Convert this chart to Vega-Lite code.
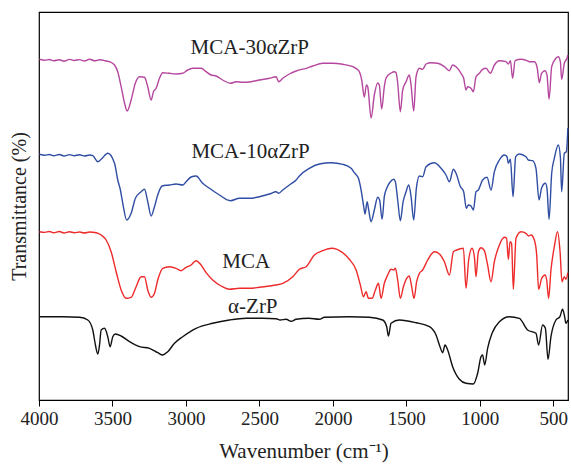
{
  "$schema": "https://vega.github.io/schema/vega-lite/v6.json",
  "autosize": "none",
  "width": 529,
  "height": 388,
  "padding": {"left": 39, "top": 12, "right": 3, "bottom": 64},
  "background": "white",
  "config": {
    "view": {"stroke": "#000", "strokeWidth": 1.2},
    "font": "Liberation Serif"
  },
  "datasets": {
    "spec": [
      {"s":"M30","x":3997,"y":340.7},{"s":"M30","x":3960,"y":339.8},{"s":"M30","x":3929,"y":340.5},{"s":"M30","x":3900,"y":339.2},{"s":"M30","x":3861,"y":340.2},{"s":"M30","x":3830,"y":338.8},{"s":"M30","x":3793,"y":340.6},{"s":"M30","x":3760,"y":339.5},{"s":"M30","x":3724,"y":340.4},{"s":"M30","x":3690,"y":339.0},{"s":"M30","x":3656,"y":340.8},{"s":"M30","x":3620,"y":339.2},{"s":"M30","x":3588,"y":340.2},{"s":"M30","x":3560,"y":339.6},{"s":"M30","x":3543,"y":339},{"s":"M30","x":3520,"y":338.3},{"s":"M30","x":3486,"y":335},{"s":"M30","x":3464,"y":328.3},{"s":"M30","x":3441,"y":313.3},{"s":"M30","x":3418,"y":297},{"s":"M30","x":3400,"y":289},{"s":"M30","x":3373,"y":300},{"s":"M30","x":3344,"y":317},{"s":"M30","x":3316,"y":323.3},{"s":"M30","x":3282,"y":322.7},{"s":"M30","x":3260,"y":313.3},{"s":"M30","x":3237,"y":300},{"s":"M30","x":3221,"y":308.3},{"s":"M30","x":3203,"y":311.7},{"s":"M30","x":3180,"y":321.7},{"s":"M30","x":3158,"y":327.3},{"s":"M30","x":3112,"y":326.7},{"s":"M30","x":3067,"y":326},{"s":"M30","x":3022,"y":326.7},{"s":"M30","x":2988,"y":330},{"s":"M30","x":2954,"y":331.7},{"s":"M30","x":2897,"y":331.7},{"s":"M30","x":2863,"y":328.3},{"s":"M30","x":2829,"y":325},{"s":"M30","x":2795,"y":324},{"s":"M30","x":2750,"y":320},{"s":"M30","x":2697,"y":316.7},{"s":"M30","x":2658,"y":318.3},{"s":"M30","x":2613,"y":317.7},{"s":"M30","x":2556,"y":318.3},{"s":"M30","x":2500,"y":320},{"s":"M30","x":2432,"y":321.7},{"s":"M30","x":2386,"y":323.3},{"s":"M30","x":2369,"y":318.3},{"s":"M30","x":2341,"y":321.7},{"s":"M30","x":2296,"y":326},{"s":"M30","x":2250,"y":329},{"s":"M30","x":2182,"y":331.7},{"s":"M30","x":2137,"y":334},{"s":"M30","x":2069,"y":336.7},{"s":"M30","x":2001,"y":336.7},{"s":"M30","x":1933,"y":335.7},{"s":"M30","x":1865,"y":333.3},{"s":"M30","x":1824,"y":329.3},{"s":"M30","x":1804,"y":320},{"s":"M30","x":1786,"y":303},{"s":"M30","x":1772,"y":315},{"s":"M30","x":1763,"y":313.3},{"s":"M30","x":1740,"y":282},{"s":"M30","x":1718,"y":305},{"s":"M30","x":1695,"y":317},{"s":"M30","x":1684,"y":315},{"s":"M30","x":1668,"y":291},{"s":"M30","x":1650,"y":313.3},{"s":"M30","x":1638,"y":322},{"s":"M30","x":1604,"y":327},{"s":"M30","x":1582,"y":328.3},{"s":"M30","x":1570,"y":327.3},{"s":"M30","x":1559,"y":317},{"s":"M30","x":1541,"y":288.3},{"s":"M30","x":1525,"y":310},{"s":"M30","x":1502,"y":318.3},{"s":"M30","x":1480,"y":325},{"s":"M30","x":1468,"y":315},{"s":"M30","x":1450,"y":289},{"s":"M30","x":1434,"y":323.3},{"s":"M30","x":1411,"y":331.7},{"s":"M30","x":1389,"y":330.7},{"s":"M30","x":1366,"y":336},{"s":"M30","x":1332,"y":337.3},{"s":"M30","x":1287,"y":336.7},{"s":"M30","x":1241,"y":333.3},{"s":"M30","x":1207,"y":329.3},{"s":"M30","x":1185,"y":335},{"s":"M30","x":1162,"y":333.3},{"s":"M30","x":1128,"y":326.7},{"s":"M30","x":1110,"y":321.7},{"s":"M30","x":1094,"y":310},{"s":"M30","x":1083,"y":313.3},{"s":"M30","x":1060,"y":311.7},{"s":"M30","x":1044,"y":308.3},{"s":"M30","x":1026,"y":323.3},{"s":"M30","x":1003,"y":326.7},{"s":"M30","x":981,"y":330.7},{"s":"M30","x":958,"y":331.7},{"s":"M30","x":928,"y":326.7},{"s":"M30","x":901,"y":335},{"s":"M30","x":867,"y":339.3},{"s":"M30","x":822,"y":338.3},{"s":"M30","x":806,"y":336},{"s":"M30","x":792,"y":339.3},{"s":"M30","x":777,"y":321.7},{"s":"M30","x":760,"y":339.3},{"s":"M30","x":720,"y":340.7},{"s":"M30","x":679,"y":339.3},{"s":"M30","x":663,"y":338.3},{"s":"M30","x":629,"y":338.3},{"s":"M30","x":611,"y":333.3},{"s":"M30","x":595,"y":317.3},{"s":"M30","x":580,"y":326.7},{"s":"M30","x":556,"y":329.3},{"s":"M30","x":543,"y":325},{"s":"M30","x":529,"y":300.7},{"s":"M30","x":511,"y":333.3},{"s":"M30","x":482,"y":341.7},{"s":"M30","x":466,"y":343.3},{"s":"M30","x":452,"y":338.3},{"s":"M30","x":443,"y":320.7},{"s":"M30","x":425,"y":336.7},{"s":"M30","x":407,"y":341.7},{"s":"M30","x":401,"y":345},

      {"s":"M10","x":3997,"y":245.7},{"s":"M10","x":3960,"y":244.8},{"s":"M10","x":3929,"y":245.5},{"s":"M10","x":3900,"y":244.2},{"s":"M10","x":3861,"y":245.5},{"s":"M10","x":3830,"y":244.0},{"s":"M10","x":3793,"y":245.4},{"s":"M10","x":3760,"y":244.3},{"s":"M10","x":3724,"y":245.2},{"s":"M10","x":3690,"y":244.0},{"s":"M10","x":3656,"y":245.0},{"s":"M10","x":3634,"y":244.3},{"s":"M10","x":3600,"y":238.3},{"s":"M10","x":3577,"y":240.7},{"s":"M10","x":3532,"y":246.7},{"s":"M10","x":3486,"y":236.7},{"s":"M10","x":3464,"y":220},{"s":"M10","x":3446,"y":210},{"s":"M10","x":3430,"y":196.7},{"s":"M10","x":3403,"y":180},{"s":"M10","x":3373,"y":186.7},{"s":"M10","x":3344,"y":201.7},{"s":"M10","x":3305,"y":208.3},{"s":"M10","x":3282,"y":210.7},{"s":"M10","x":3260,"y":198.3},{"s":"M10","x":3237,"y":184},{"s":"M10","x":3214,"y":193.3},{"s":"M10","x":3192,"y":205},{"s":"M10","x":3162,"y":214},{"s":"M10","x":3112,"y":215},{"s":"M10","x":3067,"y":216},{"s":"M10","x":3022,"y":215},{"s":"M10","x":2999,"y":218.3},{"s":"M10","x":2965,"y":223},{"s":"M10","x":2931,"y":224},{"s":"M10","x":2886,"y":216.7},{"s":"M10","x":2840,"y":211.7},{"s":"M10","x":2772,"y":205},{"s":"M10","x":2697,"y":199.3},{"s":"M10","x":2636,"y":201.7},{"s":"M10","x":2568,"y":201.7},{"s":"M10","x":2500,"y":203.3},{"s":"M10","x":2432,"y":206},{"s":"M10","x":2386,"y":208.3},{"s":"M10","x":2369,"y":206.7},{"s":"M10","x":2341,"y":210},{"s":"M10","x":2296,"y":215},{"s":"M10","x":2250,"y":220},{"s":"M10","x":2228,"y":224},{"s":"M10","x":2160,"y":231.7},{"s":"M10","x":2092,"y":236},{"s":"M10","x":2012,"y":237.3},{"s":"M10","x":1933,"y":235.7},{"s":"M10","x":1876,"y":231.7},{"s":"M10","x":1854,"y":227.3},{"s":"M10","x":1826,"y":221.7},{"s":"M10","x":1808,"y":210},{"s":"M10","x":1790,"y":193.3},{"s":"M10","x":1781,"y":186},{"s":"M10","x":1767,"y":198.3},{"s":"M10","x":1758,"y":191.7},{"s":"M10","x":1740,"y":178.3},{"s":"M10","x":1718,"y":190},{"s":"M10","x":1695,"y":202.7},{"s":"M10","x":1682,"y":200},{"s":"M10","x":1665,"y":180.7},{"s":"M10","x":1650,"y":203.3},{"s":"M10","x":1634,"y":211.7},{"s":"M10","x":1609,"y":218.3},{"s":"M10","x":1586,"y":220.7},{"s":"M10","x":1575,"y":218.3},{"s":"M10","x":1559,"y":200},{"s":"M10","x":1541,"y":179.3},{"s":"M10","x":1522,"y":198.3},{"s":"M10","x":1502,"y":208.3},{"s":"M10","x":1484,"y":215},{"s":"M10","x":1468,"y":203.3},{"s":"M10","x":1450,"y":180},{"s":"M10","x":1432,"y":211.7},{"s":"M10","x":1411,"y":224},{"s":"M10","x":1389,"y":223.3},{"s":"M10","x":1366,"y":233.3},{"s":"M10","x":1309,"y":237.3},{"s":"M10","x":1264,"y":231.7},{"s":"M10","x":1230,"y":225},{"s":"M10","x":1207,"y":218.3},{"s":"M10","x":1180,"y":230.7},{"s":"M10","x":1162,"y":226.7},{"s":"M10","x":1132,"y":213.3},{"s":"M10","x":1110,"y":208.3},{"s":"M10","x":1092,"y":191.7},{"s":"M10","x":1078,"y":195},{"s":"M10","x":1060,"y":194},{"s":"M10","x":1044,"y":190},{"s":"M10","x":1026,"y":208.3},{"s":"M10","x":1010,"y":210},{"s":"M10","x":981,"y":220},{"s":"M10","x":951,"y":222.7},{"s":"M10","x":924,"y":210},{"s":"M10","x":901,"y":228.3},{"s":"M10","x":867,"y":240},{"s":"M10","x":833,"y":245},{"s":"M10","x":815,"y":243.3},{"s":"M10","x":806,"y":236.7},{"s":"M10","x":792,"y":240.7},{"s":"M10","x":774,"y":203.3},{"s":"M10","x":756,"y":243.3},{"s":"M10","x":731,"y":246},{"s":"M10","x":686,"y":243.3},{"s":"M10","x":670,"y":240},{"s":"M10","x":641,"y":239.3},{"s":"M10","x":618,"y":231.7},{"s":"M10","x":597,"y":200},{"s":"M10","x":580,"y":211.7},{"s":"M10","x":554,"y":216.7},{"s":"M10","x":543,"y":211.7},{"s":"M10","x":529,"y":180.7},{"s":"M10","x":511,"y":226.7},{"s":"M10","x":493,"y":241.7},{"s":"M10","x":466,"y":255},{"s":"M10","x":452,"y":243.3},{"s":"M10","x":443,"y":208.3},{"s":"M10","x":425,"y":246.7},{"s":"M10","x":411,"y":248.3},{"s":"M10","x":401,"y":272},

      {"s":"MCA","x":3997,"y":168.3},{"s":"MCA","x":3960,"y":167.6},{"s":"MCA","x":3929,"y":168.5},{"s":"MCA","x":3900,"y":167.2},{"s":"MCA","x":3861,"y":168.5},{"s":"MCA","x":3830,"y":167.0},{"s":"MCA","x":3793,"y":168.2},{"s":"MCA","x":3760,"y":167.3},{"s":"MCA","x":3724,"y":168},{"s":"MCA","x":3690,"y":167.0},{"s":"MCA","x":3656,"y":168.0},{"s":"MCA","x":3611,"y":167.3},{"s":"MCA","x":3577,"y":165},{"s":"MCA","x":3543,"y":160},{"s":"MCA","x":3509,"y":148.3},{"s":"MCA","x":3475,"y":128.3},{"s":"MCA","x":3441,"y":110},{"s":"MCA","x":3407,"y":101.7},{"s":"MCA","x":3373,"y":102.7},{"s":"MCA","x":3339,"y":113.3},{"s":"MCA","x":3305,"y":123.3},{"s":"MCA","x":3282,"y":123.3},{"s":"MCA","x":3260,"y":110},{"s":"MCA","x":3237,"y":102.7},{"s":"MCA","x":3214,"y":106.7},{"s":"MCA","x":3192,"y":120},{"s":"MCA","x":3158,"y":131.7},{"s":"MCA","x":3112,"y":133.3},{"s":"MCA","x":3067,"y":131.7},{"s":"MCA","x":3033,"y":129.3},{"s":"MCA","x":2999,"y":132.7},{"s":"MCA","x":2965,"y":135},{"s":"MCA","x":2931,"y":139.3},{"s":"MCA","x":2897,"y":135},{"s":"MCA","x":2863,"y":127.3},{"s":"MCA","x":2818,"y":120},{"s":"MCA","x":2761,"y":114},{"s":"MCA","x":2704,"y":110.7},{"s":"MCA","x":2636,"y":111.7},{"s":"MCA","x":2568,"y":111.7},{"s":"MCA","x":2500,"y":112.7},{"s":"MCA","x":2432,"y":114},{"s":"MCA","x":2386,"y":115},{"s":"MCA","x":2341,"y":116.7},{"s":"MCA","x":2273,"y":123.3},{"s":"MCA","x":2228,"y":130.7},{"s":"MCA","x":2182,"y":133.3},{"s":"MCA","x":2126,"y":145},{"s":"MCA","x":2069,"y":149.3},{"s":"MCA","x":2005,"y":151.7},{"s":"MCA","x":1944,"y":148.3},{"s":"MCA","x":1888,"y":140.7},{"s":"MCA","x":1842,"y":130},{"s":"MCA","x":1813,"y":115},{"s":"MCA","x":1792,"y":103.3},{"s":"MCA","x":1774,"y":108.3},{"s":"MCA","x":1758,"y":101.7},{"s":"MCA","x":1733,"y":101.7},{"s":"MCA","x":1711,"y":110},{"s":"MCA","x":1690,"y":116.7},{"s":"MCA","x":1672,"y":101.7},{"s":"MCA","x":1650,"y":116.7},{"s":"MCA","x":1627,"y":125},{"s":"MCA","x":1604,"y":130.7},{"s":"MCA","x":1586,"y":130},{"s":"MCA","x":1575,"y":131.7},{"s":"MCA","x":1559,"y":120},{"s":"MCA","x":1541,"y":101.7},{"s":"MCA","x":1520,"y":113.3},{"s":"MCA","x":1498,"y":121.7},{"s":"MCA","x":1480,"y":124},{"s":"MCA","x":1464,"y":113.3},{"s":"MCA","x":1448,"y":101.7},{"s":"MCA","x":1430,"y":118.3},{"s":"MCA","x":1411,"y":126.7},{"s":"MCA","x":1389,"y":130},{"s":"MCA","x":1355,"y":140},{"s":"MCA","x":1309,"y":148.3},{"s":"MCA","x":1275,"y":146},{"s":"MCA","x":1241,"y":138.3},{"s":"MCA","x":1207,"y":125},{"s":"MCA","x":1180,"y":148.3},{"s":"MCA","x":1158,"y":150},{"s":"MCA","x":1112,"y":151.7},{"s":"MCA","x":1094,"y":111.7},{"s":"MCA","x":1076,"y":140},{"s":"MCA","x":1053,"y":151.7},{"s":"MCA","x":1037,"y":143.3},{"s":"MCA","x":1026,"y":123.3},{"s":"MCA","x":1010,"y":148.3},{"s":"MCA","x":992,"y":152.3},{"s":"MCA","x":969,"y":149.3},{"s":"MCA","x":947,"y":135},{"s":"MCA","x":924,"y":118.3},{"s":"MCA","x":901,"y":138.3},{"s":"MCA","x":867,"y":155},{"s":"MCA","x":833,"y":162.7},{"s":"MCA","x":818,"y":161.7},{"s":"MCA","x":806,"y":140.7},{"s":"MCA","x":794,"y":158.3},{"s":"MCA","x":784,"y":156.7},{"s":"MCA","x":772,"y":110.7},{"s":"MCA","x":754,"y":161.7},{"s":"MCA","x":720,"y":168.3},{"s":"MCA","x":686,"y":166.7},{"s":"MCA","x":668,"y":164},{"s":"MCA","x":652,"y":165},{"s":"MCA","x":629,"y":160},{"s":"MCA","x":613,"y":145},{"s":"MCA","x":600,"y":110.7},{"s":"MCA","x":579,"y":121.7},{"s":"MCA","x":556,"y":125},{"s":"MCA","x":545,"y":120},{"s":"MCA","x":532,"y":101.7},{"s":"MCA","x":516,"y":130},{"s":"MCA","x":493,"y":153.3},{"s":"MCA","x":471,"y":168.3},{"s":"MCA","x":454,"y":148.3},{"s":"MCA","x":441,"y":118.3},{"s":"MCA","x":425,"y":123.3},{"s":"MCA","x":414,"y":120.7},{"s":"MCA","x":401,"y":127.3},

      {"s":"ZrP","x":3997,"y":83.3},{"s":"ZrP","x":3838,"y":83.3},{"s":"ZrP","x":3724,"y":82.7},{"s":"ZrP","x":3668,"y":80},{"s":"ZrP","x":3634,"y":70},{"s":"ZrP","x":3616,"y":55},{"s":"ZrP","x":3600,"y":46},{"s":"ZrP","x":3588,"y":55},{"s":"ZrP","x":3577,"y":70},{"s":"ZrP","x":3554,"y":71.7},{"s":"ZrP","x":3532,"y":63.3},{"s":"ZrP","x":3516,"y":53.3},{"s":"ZrP","x":3498,"y":63.3},{"s":"ZrP","x":3480,"y":66},{"s":"ZrP","x":3441,"y":64},{"s":"ZrP","x":3384,"y":58.3},{"s":"ZrP","x":3316,"y":53.3},{"s":"ZrP","x":3248,"y":51.7},{"s":"ZrP","x":3192,"y":47.3},{"s":"ZrP","x":3158,"y":45},{"s":"ZrP","x":3124,"y":48.3},{"s":"ZrP","x":3078,"y":56.7},{"s":"ZrP","x":3022,"y":63.3},{"s":"ZrP","x":2931,"y":71.7},{"s":"ZrP","x":2818,"y":76.7},{"s":"ZrP","x":2704,"y":80},{"s":"ZrP","x":2590,"y":81.7},{"s":"ZrP","x":2477,"y":81.7},{"s":"ZrP","x":2386,"y":81.3},{"s":"ZrP","x":2359,"y":80},{"s":"ZrP","x":2318,"y":80.7},{"s":"ZrP","x":2284,"y":78.7},{"s":"ZrP","x":2250,"y":80.7},{"s":"ZrP","x":2165,"y":81.7},{"s":"ZrP","x":2092,"y":80.7},{"s":"ZrP","x":2058,"y":82.7},{"s":"ZrP","x":1888,"y":83.3},{"s":"ZrP","x":1752,"y":82.7},{"s":"ZrP","x":1661,"y":80},{"s":"ZrP","x":1634,"y":73.3},{"s":"ZrP","x":1622,"y":64},{"s":"ZrP","x":1604,"y":76.7},{"s":"ZrP","x":1548,"y":80},{"s":"ZrP","x":1434,"y":77.3},{"s":"ZrP","x":1343,"y":73.3},{"s":"ZrP","x":1298,"y":65},{"s":"ZrP","x":1271,"y":53.3},{"s":"ZrP","x":1253,"y":47.3},{"s":"ZrP","x":1237,"y":55},{"s":"ZrP","x":1219,"y":50},{"s":"ZrP","x":1185,"y":33.3},{"s":"ZrP","x":1139,"y":20.7},{"s":"ZrP","x":1094,"y":16.7},{"s":"ZrP","x":1044,"y":16},{"s":"ZrP","x":1015,"y":26.7},{"s":"ZrP","x":992,"y":43.3},{"s":"ZrP","x":981,"y":45},{"s":"ZrP","x":967,"y":35},{"s":"ZrP","x":947,"y":51.7},{"s":"ZrP","x":917,"y":66.7},{"s":"ZrP","x":867,"y":78.3},{"s":"ZrP","x":799,"y":83.3},{"s":"ZrP","x":731,"y":81.7},{"s":"ZrP","x":675,"y":70},{"s":"ZrP","x":618,"y":66.7},{"s":"ZrP","x":600,"y":55},{"s":"ZrP","x":573,"y":75},{"s":"ZrP","x":554,"y":71.7},{"s":"ZrP","x":536,"y":40.7},{"s":"ZrP","x":516,"y":63.3},{"s":"ZrP","x":482,"y":80},{"s":"ZrP","x":455,"y":83.3},{"s":"ZrP","x":437,"y":90.7},{"s":"ZrP","x":423,"y":83.3},{"s":"ZrP","x":414,"y":76.7},{"s":"ZrP","x":401,"y":80}
    ],
    "labels": [
      {"t": "MCA-30αZrP", "x": 2566, "y": 352},
      {"t": "MCA-10αZrP", "x": 2560, "y": 248},
      {"t": "MCA", "x": 2590, "y": 138},
      {"t": "α-ZrP", "x": 2545, "y": 93}
    ]
  },
  "layer": [
    {
      "data": {"name": "spec"},
      "mark": {"type": "line", "strokeWidth": 1.4, "interpolate": "monotone"},
      "encoding": {
        "x": {
          "field": "x", "type": "quantitative",
          "scale": {"domain": [400, 4000], "reverse": true, "nice": false, "zero": false},
          "axis": {
            "title": "Wavenumber (cm⁻¹)",
            "values": [4000, 3750, 3500, 3250, 3000, 2750, 2500, 2250, 2000, 1750, 1500, 1250, 1000, 750, 500],
            "labelExpr": "datum.value % 500 === 0 ? format(datum.value, 'd') : ''",
            "tickSize": {"condition": {"test": "datum.value % 500 === 0", "value": 6}, "value": 3},
            "grid": false,
            "domainColor": "#000",
            "tickColor": "#000",
            "labelColor": "#222",
            "titleColor": "#222",
            "labelFont": "Liberation Serif",
            "titleFont": "Liberation Serif",
            "labelFontSize": 19,
            "titleFontSize": 21,
            "titleFontWeight": "normal",
            "labelPadding": 3,
            "titlePadding": 12,
            "labelFlush": false
          }
        },
        "y": {
          "field": "y", "type": "quantitative",
          "scale": {"domain": [0, 388], "nice": false, "zero": false},
          "axis": {
            "title": "Transmittance (%)",
            "labels": false, "ticks": false, "domain": false, "grid": false,
            "titleFont": "Liberation Serif",
            "titleFontSize": 20,
            "titleFontWeight": "normal",
            "titleColor": "#222",
            "titlePadding": 10
          }
        },
        "color": {
          "field": "s", "type": "nominal",
          "scale": {"domain": ["M30", "M10", "MCA", "ZrP"], "range": ["#B5479E", "#2F4DA3", "#EE2B2B", "#111111"]},
          "legend": null
        },
        "detail": {"field": "s"}
      }
    },
    {
      "data": {"name": "labels"},
      "mark": {"type": "text", "font": "Liberation Serif", "fontSize": 21, "color": "#222", "align": "center", "baseline": "middle"},
      "encoding": {
        "x": {"field": "x", "type": "quantitative"},
        "y": {"field": "y", "type": "quantitative"},
        "text": {"field": "t"}
      }
    }
  ]
}
